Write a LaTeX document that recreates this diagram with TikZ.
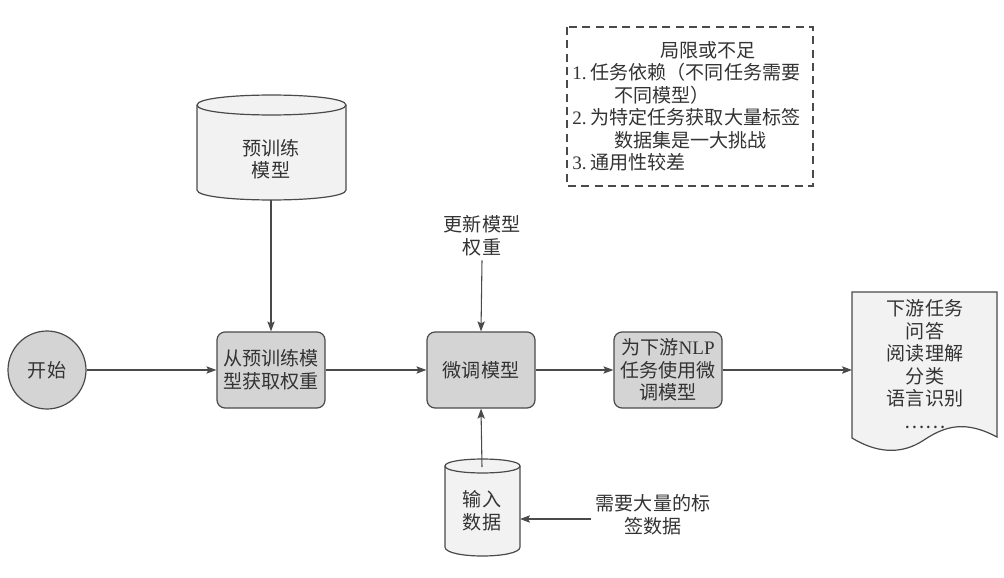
\documentclass[tikz,border=0pt]{standalone}
\usepackage{fontspec}
\setmainfont{Liberation Serif}
\newfontfamily\cjk{Noto Sans CJK SC}
\usetikzlibrary{arrows.meta}
\definecolor{ln}{HTML}{4A4A4A}
\definecolor{tx}{HTML}{333333}
\definecolor{dk}{HTML}{D4D4D4}
\definecolor{lt}{HTML}{F2F2F2}
\tikzset{
  base/.style={font=\cjk\fontsize{14.3}{16.9}\selectfont, text=tx, align=center},
  proc/.style={base, draw=ln, line width=0.9pt, fill=dk, rounded corners=6pt,
    minimum width=81pt, minimum height=57pt, inner sep=0pt},
  conn/.style={draw=ln, line width=0.8pt, -{Stealth[length=7.5pt,width=5.5pt,inset=1.5pt]}},
  shp/.style={draw=ln, line width=0.9pt, fill=lt},
}
\begin{document}
\begin{tikzpicture}[x=0.75pt,y=-0.75pt]
\useasboundingbox[fill=white] (0,0) rectangle (1004,578);

% pretrained model cylinder
\path[shp] (197,105) -- (197,190) .. controls (197,203.3) and (346,203.3) .. (346,190)
  -- (346,105) .. controls (346,91.7) and (197,91.7) .. cycle;
\draw[ln, line width=0.9pt] (197,105) .. controls (197,118.3) and (346,118.3) .. (346,105);
\node[base] (pt) at (271,159) {预训练\\模型};
\coordinate (ptbot) at (271,200);

% input data cylinder
\path[shp] (445,466) -- (445,547) .. controls (445,559) and (520,559) .. (520,547)
  -- (520,466) .. controls (520,456.7) and (445,456.7) .. cycle;
\draw[ln, line width=0.9pt] (445,466) .. controls (445,475.3) and (520,475.3) .. (520,466);
\node[base] (inp) at (482,511) {输入\\数据};
\coordinate (intop) at (482,467);
\coordinate (inright) at (520,519);

% document
\path[shp] (852,292) -- (997,292) -- (997,437) .. controls (965,420) and (945,426) .. (924,440)
  .. controls (900,456) and (875,452) .. (852,438) -- cycle;
\node[base] (doc) at (925,364) {下游任务\\问答\\阅读理解\\分类\\语言识别\\……};
\coordinate (docw) at (852,370);

% dashed note
\draw[ln, line width=0.8pt, dash pattern=on 6pt off 4pt] (567,27) rectangle (813,186);
\node[base, align=left, anchor=north west, inner sep=0pt] (lim) at (572,41)
  {\hspace*{66pt}局限或不足\\
   {\rmfamily 1.}\hspace{3pt}任务依赖（不同任务需要\\
   \hspace*{31.5pt}不同模型）\\
   {\rmfamily 2.}\hspace{3pt}为特定任务获取大量标签\\
   \hspace*{31.5pt}数据集是一大挑战\\
   {\rmfamily 3.}\hspace{3pt}通用性较差};

% process nodes
\node[base, circle, draw=ln, line width=0.9pt, fill=dk, minimum size=58.5pt, inner sep=0pt] (start) at (47,370) {开始};
\node[proc] (b1) at (271,370) {从预训练模\\型获取权重};
\node[proc] (b2) at (481,370) {微调模型};
\node[proc] (b3) at (668,370) {为下游{\rmfamily NLP}\\任务使用微\\调模型};

% labels
\node[base, inner sep=3pt] (upd) at (482,236) {更新模型\\权重};
\node[base] (need) at (653,515) {需要大量的标\\签数据};

% connectors
\draw[conn] (start) -- (b1);
\draw[conn] (ptbot) -- (b1.north);
\draw[conn] (b1) -- (b2);
\draw[conn] (upd.south) -- (b2.north);
\draw[conn] (intop) -- (b2.south);
\draw[conn] (b2) -- (b3);
\draw[conn] (b3) -- (docw);
\draw[conn] (need.west |- inright) -- (inright);
\end{tikzpicture}
\end{document}
